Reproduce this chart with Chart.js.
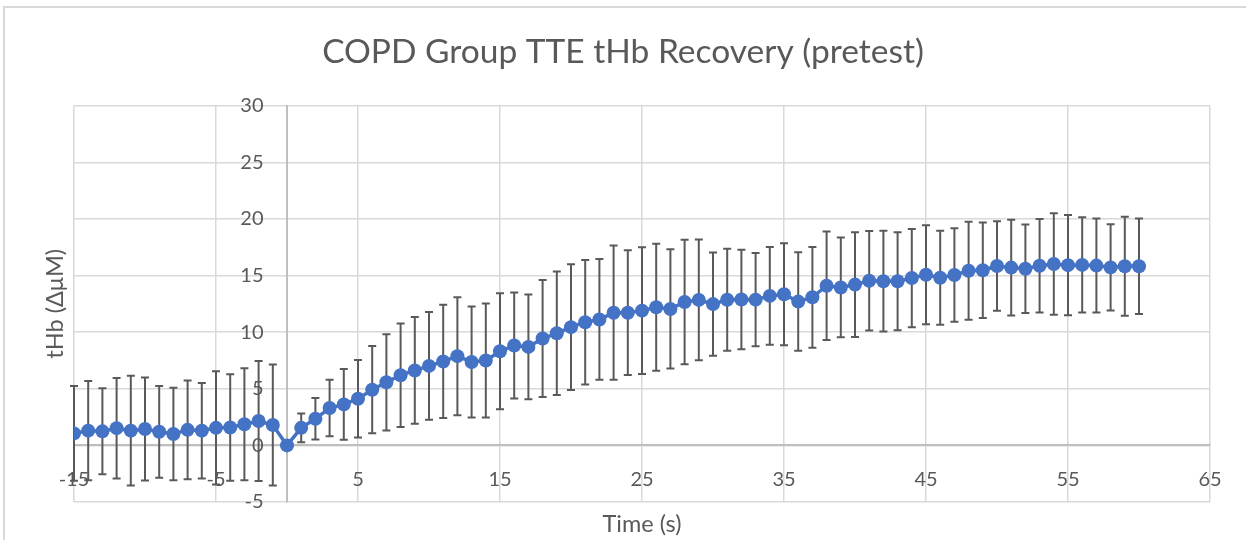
<!DOCTYPE html>
<html>
<head>
<meta charset="utf-8">
<script src="https://cdn.jsdelivr.net/npm/chart.js@4.4.1/dist/chart.umd.min.js"></script>
<style>
  html, body { margin: 0; padding: 0; background: #fff; overflow: hidden; }
  #wrap { position: relative; width: 1246px; height: 540px; }
  #frame { position: absolute; left: 3px; top: 6px; width: 1300px; height: 600px;
           border-left: 2px solid #d9d9d9; border-top: 2px solid #d9d9d9; pointer-events: none; }
  canvas { position: absolute; left: 0; top: 0; }
</style>
</head>
<body>
<div id="wrap">
  <canvas id="chart" width="1246" height="540"></canvas>
  <div id="frame"></div>
</div>
<script>
// time in seconds
const timeValues = [
  -15, -14, -13, -12, -11, -10, -9, -8, -7, -6, -5, -4, -3, -2, -1, 0,
  1, 2, 3, 4, 5, 6, 7, 8, 9, 10, 11, 12, 13, 14, 15, 16, 17, 18, 19, 20,
  21, 22, 23, 24, 25, 26, 27, 28, 29, 30, 31, 32, 33, 34, 35, 36, 37, 38, 39, 40,
  41, 42, 43, 44, 45, 46, 47, 48, 49, 50, 51, 52, 53, 54, 55, 56, 57, 58, 59, 60
];

// mean tHb change (ΔμM)
const meanValues = [
  1.06, 1.3, 1.24, 1.52, 1.3, 1.45, 1.2, 1.0, 1.37, 1.3, 1.55, 1.58, 1.87, 2.15, 1.8, 0,
  1.55, 2.35, 3.3, 3.62, 4.12, 4.92, 5.57, 6.2, 6.62, 7.02, 7.41, 7.88, 7.37, 7.5, 8.31, 8.82, 8.7, 9.44, 9.9, 10.44,
  10.88, 11.12, 11.72, 11.72, 11.9, 12.2, 12.05, 12.66, 12.85, 12.48, 12.86, 12.88, 12.87, 13.2, 13.35, 12.7, 13.08, 14.1, 13.95, 14.2,
  14.54, 14.5, 14.5, 14.78, 15.07, 14.8, 15.05, 15.42, 15.47, 15.84, 15.7, 15.6, 15.86, 16.02, 15.92, 15.94, 15.88, 15.72, 15.82, 15.82
];

// symmetric error bar size
const errorValues = [
  4.18, 4.39, 3.8, 4.44, 4.85, 4.55, 4.05, 4.08, 4.37, 4.22, 5.0, 4.7, 4.95, 5.3, 5.35, 0,
  1.27, 1.84, 2.5, 3.13, 3.42, 3.85, 4.25, 4.57, 4.71, 4.75, 5.0, 5.21, 4.9, 5.03, 5.12, 4.68, 4.62, 5.16, 5.45, 5.55,
  5.5, 5.33, 5.93, 5.51, 5.6, 5.6, 5.27, 5.5, 5.33, 4.56, 4.5, 4.39, 4.12, 4.32, 4.5, 4.35, 4.45, 4.79, 4.4, 4.62,
  4.4, 4.45, 4.33, 4.34, 4.37, 4.15, 4.12, 4.33, 4.22, 3.96, 4.22, 3.91, 4.13, 4.48, 4.42, 4.2, 4.15, 3.81, 4.37, 4.21
];

const xTickValues = [-15, -5, 5, 15, 25, 35, 45, 55, 65];

const FONT = 'Lato, "Open Sans", sans-serif';
const TEXT_COLOR = '#595959';

// draws the ± error bars behind the markers
const errorBarPlugin = {
  id: 'errorBars',
  beforeDatasetsDraw(chart) {
    const { ctx } = chart;
    const xs = chart.scales.x;
    const ys = chart.scales.y;
    const cap = 4;
    ctx.save();
    ctx.strokeStyle = '#595959';
    ctx.lineWidth = 2;
    timeValues.forEach((t, i) => {
      const err = errorValues[i];
      if (!err) return;
      const px = xs.getPixelForValue(t);
      const top = ys.getPixelForValue(meanValues[i] + err);
      const bot = ys.getPixelForValue(meanValues[i] - err);
      ctx.beginPath();
      ctx.moveTo(px, top);
      ctx.lineTo(px, bot);
      ctx.moveTo(px - cap, top);
      ctx.lineTo(px + cap, top);
      ctx.moveTo(px - cap, bot);
      ctx.lineTo(px + cap, bot);
      ctx.stroke();
    });
    ctx.restore();
  }
};

const ctx = document.getElementById('chart');

new Chart(ctx, {
  type: 'line',
  data: {
    datasets: [{
      label: 'tHb',
      data: timeValues.map((t, i) => ({ x: t, y: meanValues[i] })),
      borderColor: '#4472C4',
      backgroundColor: '#4472C4',
      borderWidth: 3.5,
      pointRadius: 7,
      pointBorderWidth: 0,
      pointBackgroundColor: '#4472C4',
      tension: 0,
      xAxisID: 'x',
      yAxisID: 'y'
    }]
  },
  options: {
    responsive: false,
    animation: false,
    layout: {
      padding: { top: 0, left: 36, right: 36, bottom: 0 }
    },
    plugins: {
      legend: { display: false },
      tooltip: { enabled: false },
      title: {
        display: true,
        text: 'COPD Group TTE tHb Recovery (pretest)',
        color: TEXT_COLOR,
        font: { family: FONT, size: 33.5, weight: 'normal' },
        padding: { top: 32, bottom: 33.5 }
      }
    },
    scales: {
      x: {
        type: 'linear',
        position: { y: 0 },
        min: -15,
        max: 65,
        afterBuildTicks: (scale) => {
          scale.ticks = xTickValues.map(v => ({ value: v }));
        },
        grid: { color: '#d9d9d9', lineWidth: 1.5, drawTicks: false },
        border: { display: true, color: '#bfbfbf', width: 2 },
        ticks: {
          color: TEXT_COLOR,
          font: { family: FONT, size: 20 },
          padding: 22,
          maxRotation: 0,
          autoSkip: false
        }
      },
      y: {
        type: 'linear',
        position: { x: 0 },
        min: -5,
        max: 30,
        grid: { color: '#d9d9d9', lineWidth: 1.5, drawTicks: false },
        border: { display: true, color: '#bfbfbf', width: 2 },
        ticks: { stepSize: 5, display: false }
      },
      // tick labels of the y axis, set a little left of the x = 0 axis line
      yLabels: {
        type: 'linear',
        position: { x: -1.65 },
        min: -5,
        max: 30,
        grid: { display: false, drawTicks: false },
        border: { display: false },
        ticks: {
          stepSize: 5,
          color: TEXT_COLOR,
          font: { family: FONT, size: 20 }
        }
      },
      xTitle: {
        type: 'linear',
        position: 'bottom',
        grid: { display: false, drawTicks: false },
        border: { display: false },
        ticks: { display: false },
        title: {
          display: true,
          text: 'Time (s)',
          color: TEXT_COLOR,
          font: { family: FONT, size: 23.5 },
          padding: { top: 7.9, bottom: 1.9 }
        }
      },
      yTitle: {
        type: 'linear',
        position: 'left',
        grid: { display: false, drawTicks: false },
        border: { display: false },
        ticks: { display: false },
        title: {
          display: true,
          text: 'tHb (ΔμM)',
          color: TEXT_COLOR,
          font: { family: FONT, size: 23.5 },
          padding: { top: 4.9, bottom: 4.9 }
        }
      }
    }
  },
  plugins: [errorBarPlugin]
});
</script>
</body>
</html>
